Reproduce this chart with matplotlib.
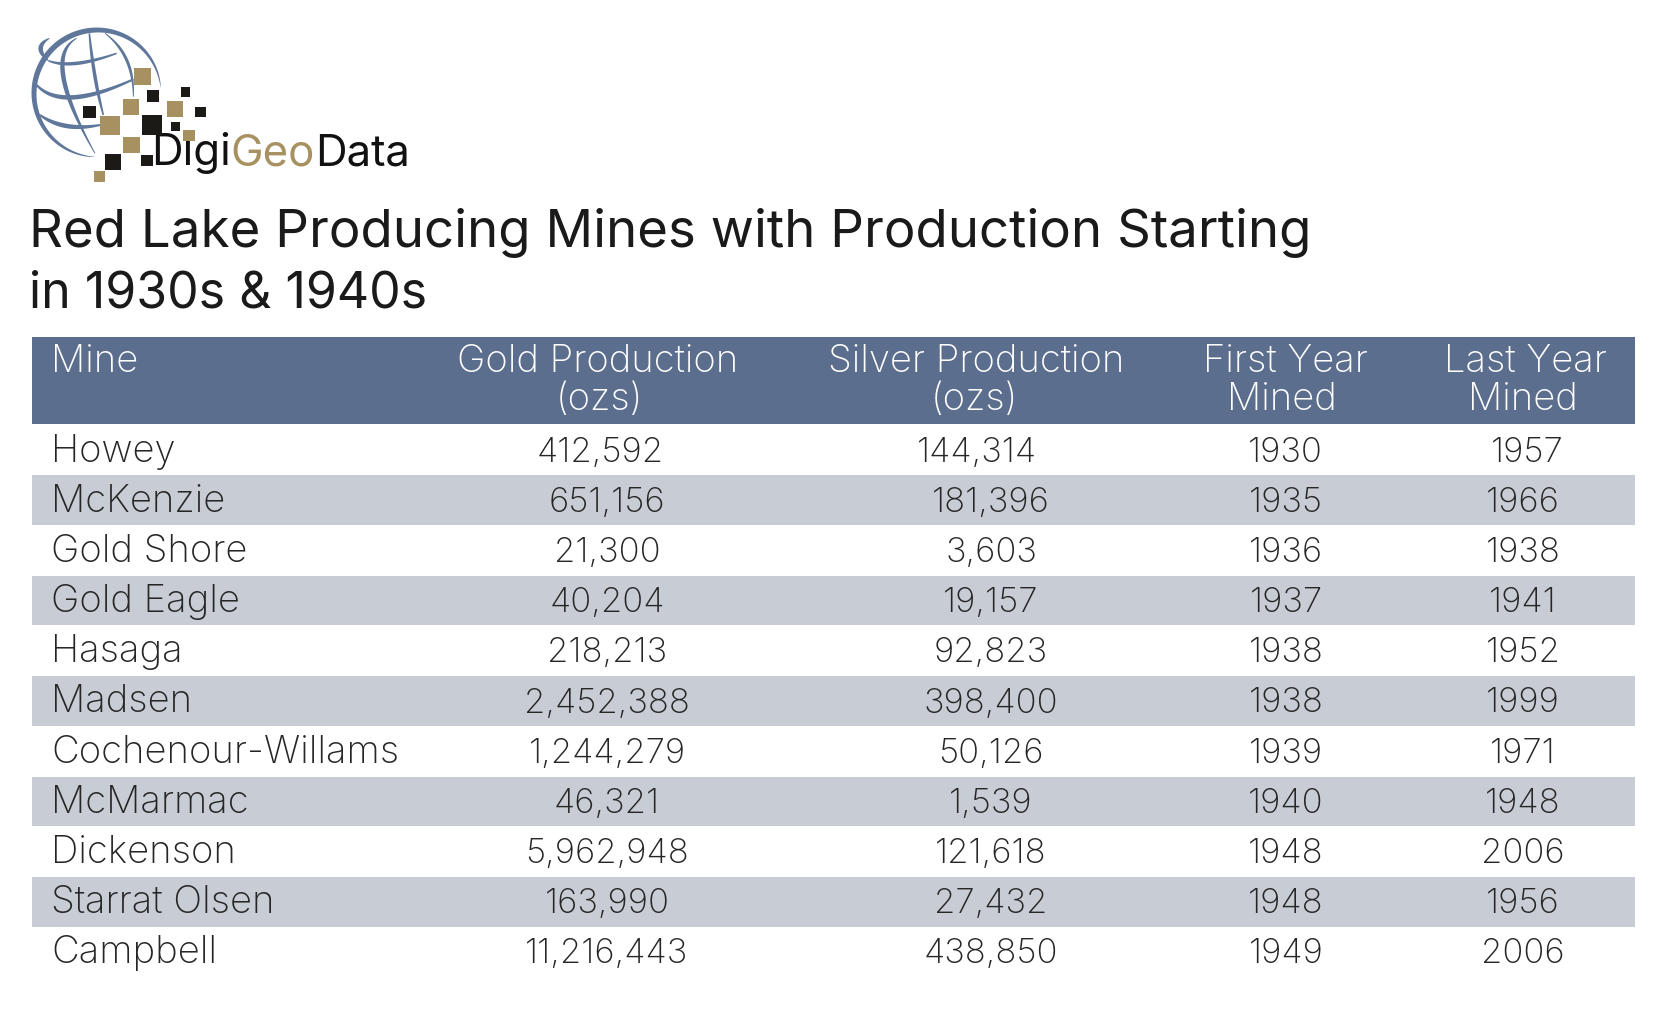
import numpy as np
import matplotlib
matplotlib.use("Agg")
import matplotlib.pyplot as plt
from matplotlib.patches import Rectangle, Polygon

# dados da tabela
mines = ["Howey", "McKenzie", "Gold Shore", "Gold Eagle", "Hasaga", "Madsen",
         "Cochenour-Willams", "McMarmac", "Dickenson", "Starrat Olsen", "Campbell"]
gold = ["412,592", "651,156", "21,300", "40,204", "218,213", "2,452,388",
        "1,244,279", "46,321", "5,962,948", "163,990", "11,216,443"]
silver = ["144,314", "181,396", "3,603", "19,157", "92,823", "398,400",
          "50,126", "1,539", "121,618", "27,432", "438,850"]
first_year = ["1930", "1935", "1936", "1937", "1938", "1938", "1939", "1940", "1948", "1948", "1949"]
last_year = ["1957", "1966", "1938", "1941", "1952", "1999", "1971", "1948", "2006", "1956", "2006"]
headers = [["Gold Production", "(ozs)"], ["Silver Production", "(ozs)"],
           ["First Year", "Mined"], ["Last Year", "Mined"]]
title_lines = ["Red Lake Producing Mines with Production Starting", "in 1930s & 1940s"]

FONT = "Inter"
BLUE = "#5C6E8E"
BAND = "#C8CDD5"
GLOBE = "#5F779B"
TAN = "#A89160"
DARK = "#1C1A17"
TXT = "#262626"

fig = plt.figure(figsize=(16.74, 10.16), dpi=100)
ax = fig.add_axes([0, 0, 1, 1])
ax.set_xlim(0, 1674)
ax.set_ylim(1016, 0)
ax.axis("off")

# ---- logo ----
def traco(x, y, w):
    # faixa de largura variavel em volta de uma curva
    dx, dy = np.gradient(x), np.gradient(y)
    n = np.hypot(dx, dy)
    nx, ny = -dy / n, dx / n
    pts = np.r_[np.c_[x + nx * w / 2, y + ny * w / 2], np.c_[x - nx * w / 2, y - ny * w / 2][::-1]]
    ax.add_patch(Polygon(pts, closed=True, fc=GLOBE, ec="none", zorder=2))

def curva(p0, p1, p2, wmax, base=0.45):
    # coordenadas do recorte (20,20) em zoom 3x
    p0, p1, p2 = [np.array(p, float) / 3 + 20 for p in (p0, p1, p2)]
    c = 2 * p1 - (p0 + p2) / 2
    u = np.linspace(0, 1, 60)
    xy = np.outer((1 - u) ** 2, p0) + np.outer(2 * u * (1 - u), c) + np.outer(u ** 2, p2)
    traco(xy[:, 0], xy[:, 1], wmax * (base + (1 - base) * np.sin(np.pi * u)))

# anel externo
ang = np.radians(np.linspace(5, 268, 200))
traco(97.5 + 63.5 * np.cos(ang), 93.5 - 63.5 * np.sin(ang),
      5.5 * np.sin(np.linspace(0, np.pi, 200)) ** 0.7)
curva((88, 55), (62, 85), (85, 122), 4.5, 0.2)
curva((85, 122), (170, 130), (290, 100), 3.5)
curva((50, 195), (160, 232), (340, 178), 4.5)
curva((60, 285), (140, 318), (240, 315), 4.5)
curva((170, 55), (130, 170), (225, 400), 4.5, 0.2)
curva((208, 40), (225, 170), (250, 285), 3.5)
curva((255, 40), (320, 120), (340, 230), 3.0, 0.3)

tan_sq = [(401, 205, 452, 256), (370, 298, 417, 345), (501, 303, 550, 352), (301, 348, 360, 406),
          (370, 410, 421, 460), (550, 390, 584, 424), (281, 513, 314, 545)]
dark_sq = [(440, 270, 478, 307), (543, 262, 570, 290), (586, 321, 617, 352), (250, 317, 289, 355),
           (427, 346, 486, 404), (512, 365, 539, 392), (424, 464, 458, 497), (316, 463, 364, 510)]
for sq, c in [(tan_sq, TAN), (dark_sq, DARK)]:
    for x0, y0, x1, y1 in sq:
        # o quadrado fica por cima do texto, faz o papel do pingo do "i"
        ax.add_patch(Rectangle((x0 / 3, y0 / 3), (x1 - x0) / 3, (y1 - y0) / 3, fc=c, ec="none", zorder=5))

fig.canvas.draw()
rend = fig.canvas.get_renderer()
x = 151
for part, c in [("Digi", "#111111"), ("Geo", TAN), ("Data", "#111111")]:
    t = ax.text(x, 165, part, color=c, fontsize=31.5, family=FONT, va="baseline", zorder=4)
    x += t.get_window_extent(rend).width

# ---- titulo ----
ax.text(29, 247, title_lines[0], fontsize=38, family=FONT, color="#1a1a1a", va="baseline")
ax.text(29, 307, title_lines[1], fontsize=36, family=FONT, color="#1a1a1a", va="baseline")

# ---- tabela ----
LEFT, RIGHT = 32, 1635.5
ax.add_patch(Rectangle((LEFT, 337), RIGHT - LEFT, 87, fc=BLUE, ec="none"))
FS = 25
FS_NAME = 27.5
ax.text(51, 372, "Mine", color="white", fontsize=FS_NAME, family=FONT, fontweight="light", va="baseline")
head_x = [[598, 599], [976, 974], [1285, 1282], [1525, 1523]]
for (l1, l2), (x1, x2) in zip(headers, head_x):
    ax.text(x1, 372, l1, color="white", fontsize=FS_NAME, family=FONT, fontweight="light", ha="center", va="baseline")
    ax.text(x2, 410, l2, color="white", fontsize=FS_NAME, family=FONT, fontweight="light", ha="center", va="baseline")

col_x = [607, 991, 1286, 1523]
first_row_x = [600, 977, 1285, 1527]
for i, row in enumerate(zip(mines, gold, silver, first_year, last_year)):
    if i % 2 == 1:
        ax.add_patch(Rectangle((LEFT, 475 + (i - 1) * 50.25), RIGHT - LEFT, 49.7, fc=BAND, ec="none"))
    y = 462 + i * 50.1
    ax.text(51, y, row[0], color=TXT, fontsize=FS_NAME, family=FONT, fontweight="light", va="baseline")
    xs = first_row_x if i == 0 else col_x
    for val, cx in zip(row[1:], xs):
        ax.text(cx, y, val, color=TXT, fontsize=FS, family=FONT, fontweight="light", ha="center", va="baseline")

fig.savefig("out.png", dpi=100, facecolor="white")
